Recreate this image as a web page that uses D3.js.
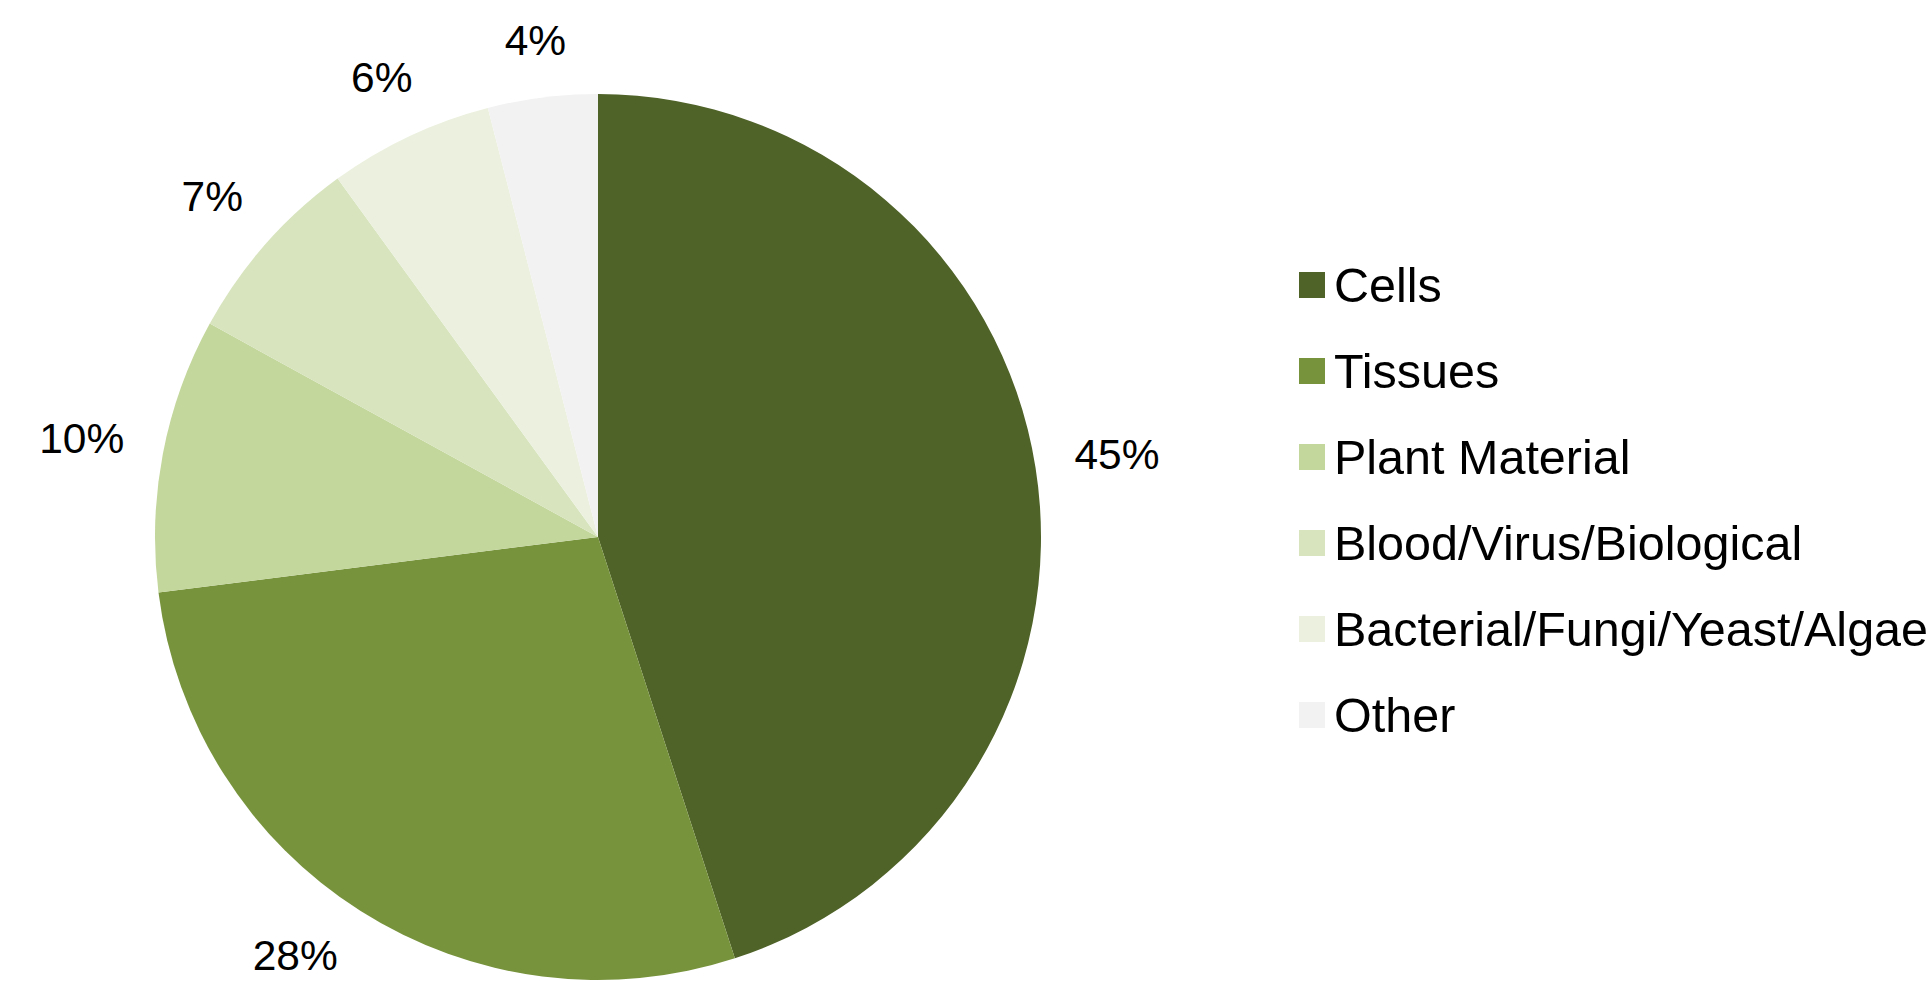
<!DOCTYPE html>
<html>
<head>
<meta charset="utf-8">
<script src="https://cdn.jsdelivr.net/npm/d3@7"></script>
<style>
  html, body { margin: 0; padding: 0; background: #ffffff; overflow: hidden; }
  text { font-family: "Liberation Sans", Arial, sans-serif; fill: #000; }
</style>
</head>
<body>
<svg id="chart" width="1932" height="981"></svg>
<script>
const categories = ["Cells", "Tissues", "Plant Material", "Blood/Virus/Biological", "Bacterial/Fungi/Yeast/Algae", "Other"];
const values = [45, 28, 10, 7, 6, 4];
const colors = ["#4F6228", "#77933C", "#C3D69B", "#D7E4BD", "#EBF1DE", "#F2F2F2"];

const W = 1932, H = 981;
const cx = 598, cy = 537, R = 443;
const labelFont = 42.5, legendFont = 48.5;

const svg = d3.select("#chart");
const data = categories.map((c, i) => ({ name: c, value: values[i], color: colors[i] }));

const pie = d3.pie().value(d => d.value).sort(null);
const arcs = pie(data);
const arc = d3.arc().innerRadius(0).outerRadius(R);

const g = svg.append("g").attr("transform", `translate(${cx},${cy})`);
g.selectAll("path.slice").data(arcs).join("path")
  .attr("class", "slice")
  .attr("d", arc)
  .attr("fill", d => d.data.color);

// Outside-end labels (kept inside the chart area like the original)
const total = d3.sum(values);
const lbl = g.selectAll("text.lbl").data(arcs).join("text")
  .attr("class", "lbl")
  .attr("font-size", labelFont)
  .attr("text-anchor", "middle")
  .attr("dominant-baseline", "central")
  .text(d => Math.round(d.data.value / total * 100) + "%");

const gap = 38;
lbl.each(function(d) {
  const w = this.getComputedTextLength();
  const h = labelFont * 0.72;
  const th = (d.startAngle + d.endAngle) / 2;
  const ux = Math.sin(th), uy = -Math.cos(th);
  const dist = R + gap + (w / 2) * Math.abs(ux) + (h / 2) * Math.abs(uy);
  let x = ux * dist, y = uy * dist;
  const yMax = H - cy - h / 2 - 10;
  if (y > yMax) {
    y = yMax;
    x = Math.sign(ux) * Math.sqrt(Math.max(0, dist * dist - y * y));
  }
  d3.select(this).attr("x", x).attr("y", y);
});

// Legend
const legendX = 1299, legendY0 = 285, rowH = 86, sw = 26;
const ly = d3.scaleLinear().domain([0, 1]).range([legendY0, legendY0 + rowH]);
const leg = svg.append("g").selectAll("g").data(data).join("g")
  .attr("transform", (d, i) => `translate(${legendX},${ly(i)})`);
leg.append("rect")
  .attr("x", 0).attr("y", -sw / 2).attr("width", sw).attr("height", sw)
  .attr("fill", d => d.color);
leg.append("text")
  .attr("x", 35).attr("y", 0)
  .attr("dominant-baseline", "central")
  .attr("font-size", legendFont)
  .text(d => d.name);
</script>
</body>
</html>
